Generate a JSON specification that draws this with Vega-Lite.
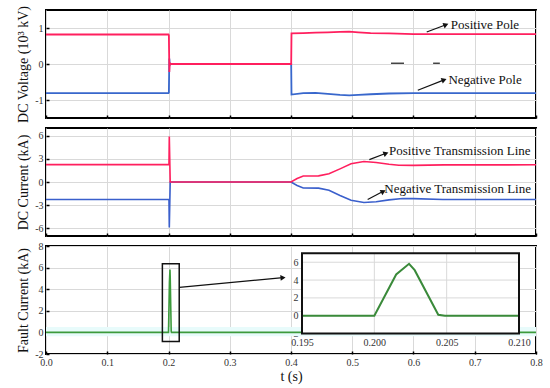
{
  "$schema": "https://vega.github.io/schema/vega-lite/v6.json",
  "background": "white",
  "padding": {"left": 15, "top": 4, "right": 5, "bottom": 5},
  "config": {
    "font": "Liberation Serif",
    "view": {"stroke": "black", "strokeWidth": 2},
    "axis": {
      "domain": false,
      "gridColor": "#d9d9d9",
      "gridWidth": 1,
      "tickColor": "black",
      "tickSize": -3,
      "tickWidth": 1.5,
      "labelFont": "Liberation Serif",
      "labelFontSize": 10,
      "labelColor": "#333",
      "labelPadding": 6,
      "labelFlush": false,
      "titleFont": "Liberation Serif",
      "titleFontSize": 14,
      "titleFontWeight": "normal",
      "titleColor": "#111",
      "titlePadding": 4
    },
    "text": {"font": "Liberation Serif", "fontSize": 13, "color": "#111"}
  },
  "datasets": {
    "voltage": [
      {"t": 0, "value": -0.81, "series": "Negative"},
      {"t": 0.1, "value": -0.81, "series": "Negative"},
      {"t": 0.2, "value": -0.81, "series": "Negative"},
      {"t": 0.2006, "value": -0.79, "series": "Negative"},
      {"t": 0.201, "value": -0.3, "series": "Negative"},
      {"t": 0.2014, "value": 0.15, "series": "Negative"},
      {"t": 0.202, "value": -0.03, "series": "Negative"},
      {"t": 0.203, "value": 0, "series": "Negative"},
      {"t": 0.4003, "value": 0, "series": "Negative"},
      {"t": 0.4008, "value": -0.85, "series": "Negative"},
      {"t": 0.42, "value": -0.81, "series": "Negative"},
      {"t": 0.44, "value": -0.8, "series": "Negative"},
      {"t": 0.46, "value": -0.83, "series": "Negative"},
      {"t": 0.48, "value": -0.86, "series": "Negative"},
      {"t": 0.495, "value": -0.87, "series": "Negative"},
      {"t": 0.51, "value": -0.86, "series": "Negative"},
      {"t": 0.53, "value": -0.84, "series": "Negative"},
      {"t": 0.56, "value": -0.82, "series": "Negative"},
      {"t": 0.6, "value": -0.81, "series": "Negative"},
      {"t": 0.7, "value": -0.81, "series": "Negative"},
      {"t": 0.8, "value": -0.81, "series": "Negative"},
      {"t": 0, "value": 0.82, "series": "Positive"},
      {"t": 0.1, "value": 0.82, "series": "Positive"},
      {"t": 0.2, "value": 0.82, "series": "Positive"},
      {"t": 0.2006, "value": 0.8, "series": "Positive"},
      {"t": 0.201, "value": 0.3, "series": "Positive"},
      {"t": 0.2014, "value": -0.22, "series": "Positive"},
      {"t": 0.202, "value": 0.03, "series": "Positive"},
      {"t": 0.203, "value": 0, "series": "Positive"},
      {"t": 0.4003, "value": 0, "series": "Positive"},
      {"t": 0.4008, "value": 0.85, "series": "Positive"},
      {"t": 0.42, "value": 0.86, "series": "Positive"},
      {"t": 0.44, "value": 0.87, "series": "Positive"},
      {"t": 0.46, "value": 0.88, "series": "Positive"},
      {"t": 0.48, "value": 0.89, "series": "Positive"},
      {"t": 0.495, "value": 0.9, "series": "Positive"},
      {"t": 0.51, "value": 0.88, "series": "Positive"},
      {"t": 0.53, "value": 0.86, "series": "Positive"},
      {"t": 0.56, "value": 0.85, "series": "Positive"},
      {"t": 0.6, "value": 0.83, "series": "Positive"},
      {"t": 0.7, "value": 0.83, "series": "Positive"},
      {"t": 0.8, "value": 0.83, "series": "Positive"}
    ],
    "current": [
      {"t": 0, "value": -2.27, "series": "Negative"},
      {"t": 0.1, "value": -2.27, "series": "Negative"},
      {"t": 0.2, "value": -2.27, "series": "Negative"},
      {"t": 0.2008, "value": -2.35, "series": "Negative"},
      {"t": 0.2013, "value": -5.9, "series": "Negative"},
      {"t": 0.2028, "value": 0, "series": "Negative"},
      {"t": 0.4, "value": 0, "series": "Negative"},
      {"t": 0.41, "value": -0.45, "series": "Negative"},
      {"t": 0.42, "value": -0.77, "series": "Negative"},
      {"t": 0.445, "value": -0.8, "series": "Negative"},
      {"t": 0.462, "value": -1.07, "series": "Negative"},
      {"t": 0.48, "value": -1.75, "series": "Negative"},
      {"t": 0.498, "value": -2.36, "series": "Negative"},
      {"t": 0.519, "value": -2.66, "series": "Negative"},
      {"t": 0.539, "value": -2.57, "series": "Negative"},
      {"t": 0.56, "value": -2.32, "series": "Negative"},
      {"t": 0.582, "value": -2.14, "series": "Negative"},
      {"t": 0.6, "value": -2.15, "series": "Negative"},
      {"t": 0.648, "value": -2.27, "series": "Negative"},
      {"t": 0.7, "value": -2.27, "series": "Negative"},
      {"t": 0.8, "value": -2.27, "series": "Negative"},
      {"t": 0, "value": 2.25, "series": "Positive"},
      {"t": 0.1, "value": 2.25, "series": "Positive"},
      {"t": 0.2, "value": 2.25, "series": "Positive"},
      {"t": 0.2008, "value": 2.3, "series": "Positive"},
      {"t": 0.2013, "value": 5.9, "series": "Positive"},
      {"t": 0.2028, "value": 0, "series": "Positive"},
      {"t": 0.4, "value": 0, "series": "Positive"},
      {"t": 0.41, "value": 0.45, "series": "Positive"},
      {"t": 0.42, "value": 0.77, "series": "Positive"},
      {"t": 0.445, "value": 0.8, "series": "Positive"},
      {"t": 0.462, "value": 1.07, "series": "Positive"},
      {"t": 0.48, "value": 1.7, "series": "Positive"},
      {"t": 0.498, "value": 2.36, "series": "Positive"},
      {"t": 0.519, "value": 2.65, "series": "Positive"},
      {"t": 0.539, "value": 2.52, "series": "Positive"},
      {"t": 0.56, "value": 2.3, "series": "Positive"},
      {"t": 0.576, "value": 2.17, "series": "Positive"},
      {"t": 0.6, "value": 2.15, "series": "Positive"},
      {"t": 0.65, "value": 2.22, "series": "Positive"},
      {"t": 0.7, "value": 2.22, "series": "Positive"},
      {"t": 0.8, "value": 2.23, "series": "Positive"}
    ],
    "fault": [
      {"t": 0, "value": 0},
      {"t": 0.195, "value": 0},
      {"t": 0.2, "value": 0},
      {"t": 0.20151, "value": 4.63},
      {"t": 0.2024, "value": 5.82},
      {"t": 0.20279, "value": 5.11},
      {"t": 0.20442, "value": 0.11},
      {"t": 0.20488, "value": 0},
      {"t": 0.21, "value": 0},
      {"t": 0.8, "value": 0}
    ]
  },
  "spacing": 10,
  "bounds": "flush",
  "vconcat": [
    {
      "width": 490,
      "height": 108,
      "encoding": {
        "x": {"field": "t", "type": "quantitative", "scale": {"domain": [0, 0.8], "nice": false, "zero": false},
              "axis": {"values": [0, 0.1, 0.2, 0.3, 0.4, 0.5, 0.6, 0.7, 0.8], "labels": false, "title": null}},
        "y": {"field": "value", "type": "quantitative", "scale": {"domain": [-1.5, 1.5], "nice": false},
              "axis": {"values": [-1, 0, 1], "title": "DC Voltage (10³ kV)", "labelExpr": "'' + datum.value"}}
      },
      "layer": [
        {"data": {"name": "voltage"}, "transform": [{"filter": "datum.series === 'Negative'"}],
         "mark": {"type": "line", "color": "#3867cc", "strokeWidth": 1.8}},
        {"data": {"name": "voltage"}, "transform": [{"filter": "datum.series === 'Positive'"}],
         "mark": {"type": "line", "color": "#ff1f5e", "strokeWidth": 1.8}},
        {"data": {"values": [{"t": 0.5633, "t2": 0.5845, "value": 0.02}, {"t": 0.632, "t2": 0.643, "value": 0.02}]},
         "mark": {"type": "rule", "color": "#444", "strokeWidth": 1.5},
         "encoding": {"x2": {"field": "t2"}}},
        {"data": {"values": [{"t": 0.6216, "value": 0.89, "t2": 0.653, "value2": 1.09}, {"t": 0.607, "value": -0.73, "t2": 0.65, "value2": -0.44}]},
         "mark": {"type": "rule", "color": "#111", "strokeWidth": 1.2},
         "encoding": {"x2": {"field": "t2"}, "y2": {"field": "value2"}}},
        {"data": {"values": [{"t": 0.653, "value": 1.09}, {"t": 0.65, "value": -0.44}]},
         "mark": {"type": "point", "shape": "triangle-right", "filled": true, "color": "#111", "size": 35, "angle": -21, "opacity": 1}},
        {"data": {"values": [{"t": 0.661, "value": 1.09, "label": "Positive Pole"}, {"t": 0.657, "value": -0.44, "label": "Negative Pole"}]},
         "mark": {"type": "text", "align": "left", "baseline": "middle"},
         "encoding": {"text": {"field": "label"}}}
      ]
    },
    {
      "width": 490,
      "height": 108,
      "encoding": {
        "x": {"field": "t", "type": "quantitative", "scale": {"domain": [0, 0.8], "nice": false, "zero": false},
              "axis": {"values": [0, 0.1, 0.2, 0.3, 0.4, 0.5, 0.6, 0.7, 0.8], "labels": false, "title": null}},
        "y": {"field": "value", "type": "quantitative", "scale": {"domain": [-7, 7], "nice": false},
              "axis": {"values": [-6, -3, 0, 3, 6], "title": "DC Current (kA)", "labelExpr": "'' + datum.value"}}
      },
      "layer": [
        {"data": {"name": "current"}, "transform": [{"filter": "datum.series === 'Negative'"}],
         "mark": {"type": "line", "color": "#3a5fcc", "strokeWidth": 1.6}},
        {"data": {"name": "current"}, "transform": [{"filter": "datum.series === 'Positive'"}],
         "mark": {"type": "line", "color": "#ff1f5e", "strokeWidth": 1.6}},
        {"data": {"values": [{"t": 0.5279, "value": 2.9, "t2": 0.5551, "value2": 3.72}]},
         "mark": {"type": "rule", "color": "#111", "strokeWidth": 1.2},
         "encoding": {"x2": {"field": "t2"}, "y2": {"field": "value2"}}},
        {"data": {"values": [{"t": 0.5252, "value": -2.28, "t2": 0.5507, "value2": -1.21}]},
         "mark": {"type": "rule", "color": "#111", "strokeWidth": 1.2},
         "encoding": {"x2": {"field": "t2"}, "y2": {"field": "value2"}}},
        {"data": {"values": [{"t": 0.5551, "value": 3.72}]},
         "mark": {"type": "point", "shape": "triangle-right", "filled": true, "color": "#111", "size": 35, "angle": -21, "opacity": 1}},
        {"data": {"values": [{"t": 0.5507, "value": -1.21}]},
         "mark": {"type": "point", "shape": "triangle-right", "filled": true, "color": "#111", "size": 35, "angle": -28, "opacity": 1}},
        {"data": {"values": [{"t": 0.56, "value": 4.06, "label": "Positive Transmission Line"}, {"t": 0.5524, "value": -0.95, "label": "Negative Transmission Line"}]},
         "mark": {"type": "text", "align": "left", "baseline": "middle"},
         "encoding": {"text": {"field": "label"}}}
      ]
    },
    {
      "width": 490,
      "height": 108,
      "resolve": {"scale": {"x": "independent", "y": "independent"}, "axis": {"x": "independent", "y": "independent"}},
      "layer": [
        {
          "encoding": {
            "x": {"field": "t", "type": "quantitative", "scale": {"domain": [0, 0.8], "nice": false, "zero": false},
                  "axis": {"orient": "bottom", "values": [0, 0.1, 0.2, 0.3, 0.4, 0.5, 0.6, 0.7, 0.8], "format": ".1f", "title": "t (s)", "titlePadding": 2}},
            "y": {"field": "value", "type": "quantitative", "scale": {"domain": [-2, 8], "nice": false},
                  "axis": {"orient": "left", "values": [-2, 0, 2, 4, 6, 8], "title": "Fault Current (kA)", "labelExpr": "'' + datum.value"}}
          },
          "layer": [
            {"data": {"values": [{"t": 0, "t2": 0.8, "value": -0.35, "value2": 0.5}]},
             "mark": {"type": "rect", "color": "#e8fbfb"},
             "encoding": {"x2": {"field": "t2"}, "y2": {"field": "value2"}}},
            {"data": {"name": "fault"},
             "mark": {"type": "line", "color": "#3c9a3c", "strokeWidth": 1.6}},
            {"data": {"values": [{"t": 0.19, "t2": 0.2175, "value": -0.85, "value2": 6.35}]},
             "mark": {"type": "rect", "fill": null, "fillOpacity": 0, "stroke": "#111", "strokeWidth": 1.5},
             "encoding": {"x2": {"field": "t2"}, "y2": {"field": "value2"}}},
            {"data": {"values": [{"t": 0.2177, "value": 4.17, "t2": 0.387, "value2": 5.07}]},
             "mark": {"type": "rule", "color": "#111", "strokeWidth": 1.2},
             "encoding": {"x2": {"field": "t2"}, "y2": {"field": "value2"}}},
            {"data": {"values": [{"t": 0.387, "value": 5.07}]},
             "mark": {"type": "point", "shape": "triangle-right", "filled": true, "color": "#111", "size": 35, "angle": -5, "opacity": 1}}
          ]
        },
        {
          "encoding": {
            "x": {"field": "t", "type": "quantitative", "scale": {"domain": [0.195, 0.21], "range": [256, 473], "nice": false, "zero": false},
                  "axis": {"orient": "bottom", "offset": -20, "values": [0.195, 0.2, 0.205, 0.21], "format": ".3f", "title": null, "grid": false, "ticks": false, "labelPadding": 3}},
            "y": {"field": "value", "type": "quantitative", "scale": {"domain": [-2, 7], "range": [87.6, 7.3], "nice": false, "zero": false},
                  "axis": {"orient": "left", "offset": -256, "values": [-2, 0, 2, 4, 6], "title": null, "grid": false, "ticks": false, "labelPadding": 4, "labelExpr": "'' + datum.value"}}
          },
          "layer": [
            {"data": {"values": [{"t": 0.195, "t2": 0.21, "value": -2, "value2": 7}]},
             "mark": {"type": "rect", "fill": "white", "stroke": null},
             "encoding": {"x2": {"field": "t2"}, "y2": {"field": "value2"}}},
            {"data": {"values": [{"t": 0.2, "value": -2, "value2": 7}, {"t": 0.205, "value": -2, "value2": 7}]},
             "mark": {"type": "rule", "color": "#d9d9d9", "strokeWidth": 1},
             "encoding": {"y2": {"field": "value2"}}},
            {"data": {"values": [{"t": 0.195, "t2": 0.21, "value": 0}, {"t": 0.195, "t2": 0.21, "value": 2}, {"t": 0.195, "t2": 0.21, "value": 4}, {"t": 0.195, "t2": 0.21, "value": 6}]},
             "mark": {"type": "rule", "color": "#d9d9d9", "strokeWidth": 1},
             "encoding": {"x2": {"field": "t2"}}},
            {"data": {"name": "fault"}, "transform": [{"filter": "datum.t >= 0.195 && datum.t <= 0.21"}],
             "mark": {"type": "line", "color": "#3a8a3a", "strokeWidth": 2}},
            {"data": {"values": [{"t": 0.195, "t2": 0.21, "value": -2, "value2": 7}]},
             "mark": {"type": "rect", "fill": null, "fillOpacity": 0, "stroke": "#111", "strokeWidth": 2},
             "encoding": {"x2": {"field": "t2"}, "y2": {"field": "value2"}}}
          ]
        }
      ]
    }
  ]
}
